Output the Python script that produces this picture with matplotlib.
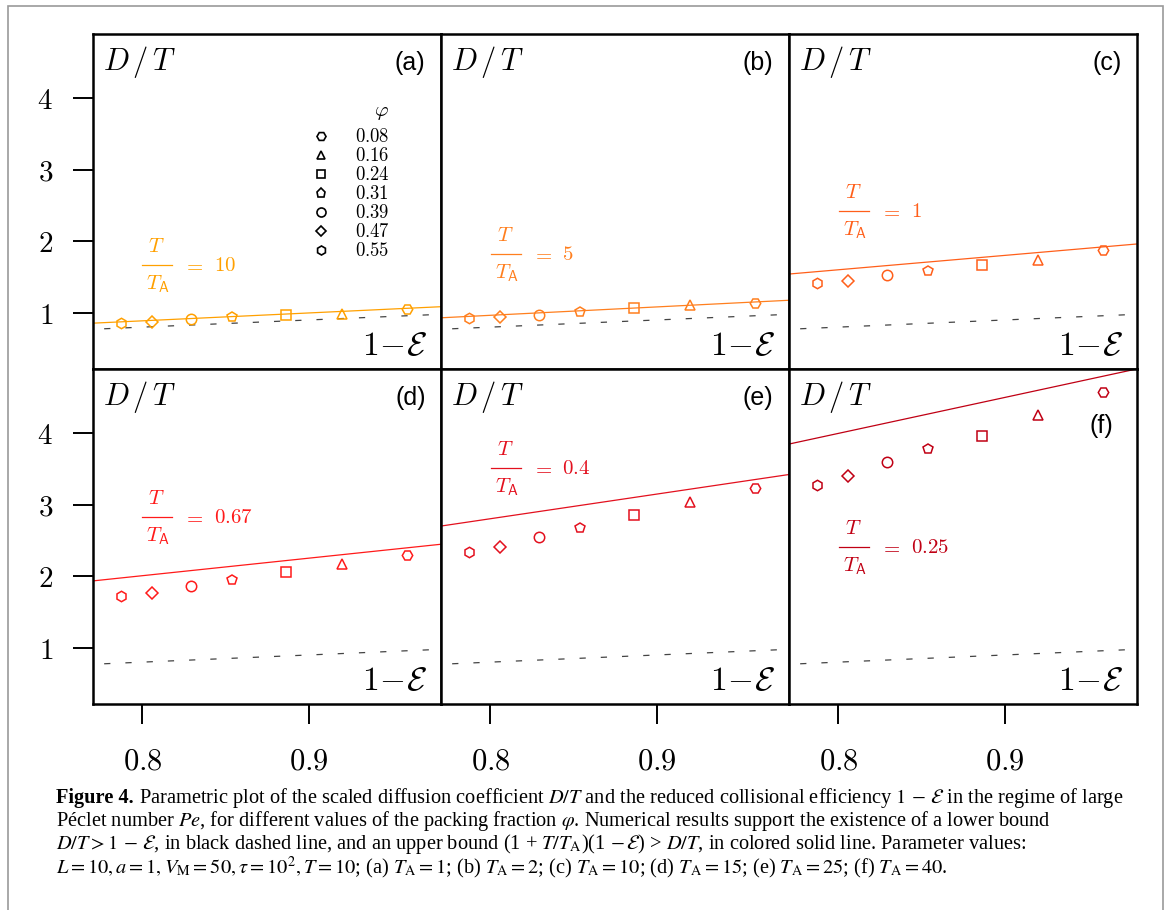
import matplotlib
matplotlib.use("Agg")
import matplotlib.pyplot as plt
from matplotlib.lines import Line2D
from matplotlib.patches import Rectangle

plt.rcParams['mathtext.fontset'] = 'cm'
plt.rcParams['font.family'] = ['DejaVu Sans']

# ---------------- data ----------------
phi_labels = ['0.08', '0.16', '0.24', '0.31', '0.39', '0.47', '0.55']
phi_markers = ['H', '^', 's', 'p', 'o', 'D', 'h']
one_minus_E = [0.959, 0.920, 0.886, 0.854, 0.829, 0.806, 0.787]

dt_a = [1.047, 0.990, 0.968, 0.944, 0.907, 0.874, 0.860]
dt_b = [1.140, 1.108, 1.061, 1.014, 0.968, 0.944, 0.922]
dt_c = [1.877, 1.737, 1.667, 1.587, 1.527, 1.448, 1.411]
dt_d = [2.297, 2.167, 2.055, 1.948, 1.865, 1.772, 1.725]
dt_e = [3.236, 3.040, 2.855, 2.669, 2.548, 2.409, 2.343]
dt_f = [4.575, 4.250, 3.961, 3.771, 3.590, 3.399, 3.273]
panel_data = [dt_a, dt_b, dt_c, dt_d, dt_e, dt_f]

# upper bound (colored solid) line end points
upper_x = [0.770, 0.979]
upper_a = [0.855, 1.085]
upper_b = [0.930, 1.175]
upper_c = [1.541, 1.961]
upper_d = [1.934, 2.446]
upper_e = [2.700, 3.420]
upper_f = [3.845, 4.895]
panel_upper = [upper_a, upper_b, upper_c, upper_d, upper_e, upper_f]

# lower bound (black dashed) line end points
lower_x = [0.777, 0.975]
lower_y = [0.777, 0.975]

panel_labels = ['(a)', '(b)', '(c)', '(d)', '(e)', '(f)']
ratio_labels = ['10', '5', '1', '0.67', '0.4', '0.25']
panel_colors = ['#FFA000', '#FF7F1E', '#FF5F1A', '#FF1A1A', '#E3101E', '#C00014']

xticks = [0.8, 0.9]
xtick_labels = ['$0.8$', '$0.9$']
yticks = [1, 2, 3, 4]
ytick_labels = ['$1$', '$2$', '$3$', '$4$']

# ---------------- layout ----------------
W, H = 1168, 910
AW, AH = 348.0, 335.0
fig = plt.figure(figsize=(W / 100, H / 100), dpi=100)
gs = fig.add_gridspec(2, 3, left=92.5 / W, right=1136.5 / W,
                      top=1 - 34 / H, bottom=1 - 704 / H,
                      wspace=0, hspace=0)

# fraction-bar left edge / height inside each panel (pixels from axes lower-left)
ratio_pos = [(49, 104), (50, 115), (50, 158), (49, 187), (50, 236), (50, 157)]
label_pos = [(0.957, 0.893)] * 5 + [(0.932, 0.809)]
marker_sizes = {'H': 7.5, '^': 7.0, 's': 6.5, 'p': 7.5, 'o': 7.5, 'D': 6.0, 'h': 7.5}


def ratio_text(ax, x0, y0, rhs, color):
    def fx(p):
        return (x0 + p) / AW

    def fy(p):
        return (y0 + p) / AH
    kw = dict(transform=ax.transAxes, fontsize=15, color=color)
    ax.text(fx(15), fy(13), '$T$', ha='center', va='baseline', **kw)
    ax.text(fx(16), fy(-24), r'$T_{\mathsf{A}}$', ha='center', va='baseline', **kw)
    ax.plot([fx(0), fx(30)], [fy(0), fy(0)], transform=ax.transAxes,
            color=color, lw=0.9, clip_on=False)
    ax.text(fx(52), fy(0), '$=$', ha='center', va='center', **kw)
    ax.text(fx(72), fy(0), '$' + rhs + '$', ha='left', va='center', **kw)


for i in range(6):
    r, c = divmod(i, 3)
    ax = fig.add_subplot(gs[r, c])
    col = panel_colors[i]
    ax.plot(lower_x, lower_y, color='#444444', lw=0.9, ls=(0, (5, 12)), zorder=1)
    ax.plot(upper_x, panel_upper[i], color=col, lw=0.9, zorder=2)
    for xv, yv, m in zip(one_minus_E, panel_data[i], phi_markers):
        ax.plot([xv], [yv], marker=m, ls='none', mfc='none', mec=col,
                ms=marker_sizes[m], mew=1.1, zorder=3)
    ax.set_xlim(0.770, 0.979)
    ax.set_ylim(0.215, 4.895)
    for s in ax.spines.values():
        s.set_linewidth(1.8)
    ax.tick_params(direction='out', length=14.4, width=1.4)
    if c == 0:
        ax.set_yticks(yticks)
        ax.set_yticklabels(ytick_labels, fontsize=21)
        ax.tick_params(axis='y', pad=14)
    else:
        ax.set_yticks([])
    if r == 1:
        ax.set_xticks(xticks)
        ax.set_xticklabels(xtick_labels, fontsize=22)
        ax.tick_params(axis='x', pad=16)
    else:
        ax.set_xticks([])

    ax.text(0.030, 0.893, r'$D\,/\,T$', transform=ax.transAxes, fontsize=22,
            ha='left', va='baseline')
    lx, ly = label_pos[i]
    ax.text(lx, ly, panel_labels[i], transform=ax.transAxes, fontsize=18,
            family='Liberation Sans', ha='right', va='baseline')
    ax.text(0.963, 0.042, r'$1\!-\!\mathcal{E}$', transform=ax.transAxes,
            fontsize=24, ha='right', va='baseline')
    rx, ry = ratio_pos[i]
    ratio_text(ax, rx, ry, ratio_labels[i], col)

    if i == 0:
        handles = [Line2D([], [], marker=m, ls='none', mfc='none', mec='k',
                          ms=marker_sizes[m] - 1, mew=1.2)
                   for m in phi_markers]
        ax.legend(handles, ['$' + p + '$' for p in phi_labels],
                  frameon=False, loc='upper left',
                  bbox_to_anchor=(0.635, 0.722), borderpad=0,
                  borderaxespad=0, handlelength=0.8, handletextpad=1.4,
                  labelspacing=0.0, fontsize=13.5)
        ax.text(0.829, 0.768, r'$\varphi$', transform=ax.transAxes,
                fontsize=15, ha='center', va='center')

# ---------------- border ----------------
fig.patches.append(Rectangle((8 / W, -0.05), (1163 - 8) / W, 1.05 - 6 / H,
                             transform=fig.transFigure, fill=False,
                             edgecolor='#9a9a9a', lw=1.2))

# ---------------- caption ----------------
cap_lines = [
    [("Figure 4.", 'bold'),
     (r" Parametric plot of the scaled diffusion coefficient $D/T$ and the reduced collisional efficiency $1\,-\,\mathcal{E}$ in the regime of large", 'normal')],
    [(r"Péclet number $Pe$, for different values of the packing fraction $\varphi$. Numerical results support the existence of a lower bound", 'normal')],
    [(r"$D/T > 1\,-\,\mathcal{E}$, in black dashed line, and an upper bound (1 + $T/T_{\mathrm{A}}$)(1 $-\,\mathcal{E}$) > $D/T$, in colored solid line. Parameter values:", 'normal')],
    [(r"$L = 10, a = 1, V_{\mathrm{M}} = 50, \tau = 10^2, T = 10$; (a) $T_{\mathrm{A}} = 1$; (b) $T_{\mathrm{A}} = 2$; (c) $T_{\mathrm{A}} = 10$; (d) $T_{\mathrm{A}} = 15$; (e) $T_{\mathrm{A}} = 25$; (f) $T_{\mathrm{A}} = 40$.", 'normal')],
]
cap_base = [803, 826, 849, 874]
cap_x0 = 56
renderer = fig.canvas.get_renderer()


def put_line(segs, y, size, draw=True):
    x = cap_x0
    made = []
    for txt, wt in segs:
        t = fig.text(x / W, 1 - y / H, txt, fontsize=size, fontweight=wt,
                     family='Liberation Serif', math_fontfamily='stix',
                     ha='left', va='baseline')
        x += t.get_window_extent(renderer).width
        made.append(t)
    if not draw:
        for t in made:
            t.remove()
    return x - cap_x0


w12 = put_line(cap_lines[0], cap_base[0], 12, draw=False)
cap_size = 12 * (1122 - cap_x0) / w12
for segs, yb in zip(cap_lines, cap_base):
    put_line(segs, yb, cap_size)

fig.savefig('out.png', dpi=100)
